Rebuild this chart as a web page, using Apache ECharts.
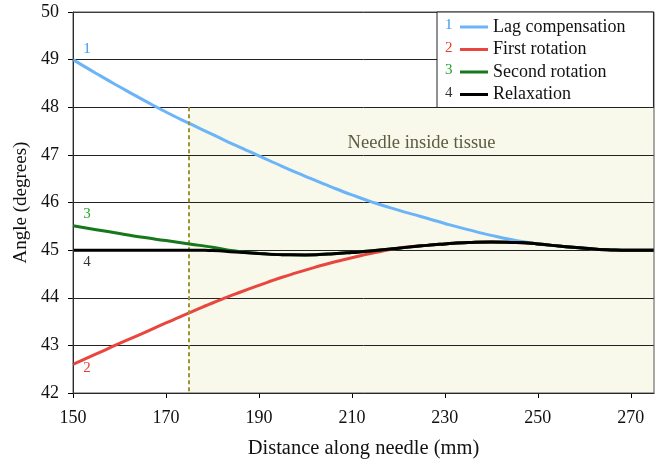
<!DOCTYPE html>
<html>
<head>
<meta charset="utf-8">
<script src="https://cdn.jsdelivr.net/npm/echarts@6/dist/echarts.min.js"></script>
<style>html,body{margin:0;padding:0;background:#fff}#c{width:662px;height:464px}</style>
</head>
<body>
<div id="c"></div>
<script>
var xs = [150,155,160,165,170,175,180,185,190,195,200,205,210,215,220,225,230,235,240,245,250,255,260,265,270,275];
var lagComp = [49.0,48.71,48.43,48.16,47.9,47.66,47.43,47.2,46.98,46.76,46.55,46.35,46.16,45.99,45.84,45.7,45.56,45.43,45.31,45.21,45.13,45.08,45.04,45.01,45.0,45.0];
var firstRot = [42.6,42.82,43.04,43.25,43.47,43.68,43.89,44.08,44.26,44.43,44.58,44.72,44.84,44.95,45.04,45.09,45.13,45.16,45.17,45.16,45.13,45.08,45.04,45.01,45.0,45.0];
var secondRot = [45.51,45.43,45.35,45.27,45.2,45.13,45.06,44.98,44.93,44.905,44.9,44.92,44.95,44.99,45.04,45.09,45.13,45.16,45.17,45.16,45.13,45.08,45.04,45.01,45.0,45.0];
var relax = [45.0,45.0,45.0,45.0,45.0,45.0,44.99,44.96,44.93,44.905,44.9,44.92,44.95,44.99,45.04,45.09,45.13,45.16,45.17,45.16,45.13,45.08,45.04,45.01,45.0,45.0];
var seriesNames = ['Lag compensation','First rotation','Second rotation','Relaxation'];
var seriesNums = ['1','2','3','4'];
var tissueStart = 175;
var tissueTop = 48;
var tissueLabel = 'Needle inside tissue';
var xTitle = 'Distance along needle (mm)';
var yTitle = 'Angle (degrees)';

var F = '"Liberation Serif", "Times New Roman", serif';
var lineColors = ['#6cb4f8','#e8463e','#16781c','#000000'];
var numColors = ['#3a9ae8','#ee3b2c','#22a52a','#333333'];
var numOffsets = [[14,-11],[14,4],[14,-12],[14,12]];
var datas = [lagComp, firstRot, secondRot, relax];

function pairs(arr){ return xs.map(function(x,i){ return [x, arr[i]]; }); }

var series = [{
  name: 'tissue', type: 'line', data: [], z: 0, silent: true,
  markArea: {
    silent: true,
    itemStyle: {color: '#f8f8eb'},
    label: {show: true, position: 'insideTop', distance: 26, formatter: tissueLabel, color: '#5c5c42', fontFamily: F, fontSize: 18.5},
    data: [[{xAxis: tissueStart, yAxis: tissueTop}, {xAxis: 275, yAxis: 42}]]
  }
}];
datas.forEach(function(arr, k){
  var s = {
    name: seriesNames[k], type: 'line', data: pairs(arr),
    smooth: 0.6, showSymbol: false, symbol: 'none',
    lineStyle: {color: lineColors[k], width: 3},
    itemStyle: {color: lineColors[k]},
    z: 3 + k,
    markPoint: {
      symbol: 'circle', symbolSize: 0, silent: true,
      itemStyle: {color: 'rgba(0,0,0,0)'},
      label: {show: true, formatter: seriesNums[k], color: numColors[k], fontFamily: F, fontSize: 15, offset: numOffsets[k], position: 'inside'},
      data: [{coord: [xs[0], arr[0]]}]
    }
  };
  if (k === 0) {
    s.markLine = {
      silent: true, symbol: 'none',
      lineStyle: {color: '#9c9532', width: 2, type: [4,3]},
      label: {show: false},
      data: [[{coord: [tissueStart, tissueTop]}, {coord: [tissueStart, 42]}]]
    };
  }
  series.push(s);
});

var chart = echarts.init(document.getElementById('c'), null, {renderer: 'canvas'});
chart.setOption({
  animation: false,
  backgroundColor: '#ffffff',
  grid: {left: 73, right: 8, top: 12, bottom: 71, show: true, borderColor: '#555', borderWidth: 1, backgroundColor: 'transparent', z: 10},
  xAxis: {
    type: 'value', min: 150, max: 275, interval: 20, z: 2,
    name: xTitle, nameLocation: 'middle', nameGap: 45,
    nameTextStyle: {fontFamily: F, fontSize: 20.5, color: '#111'},
    axisLine: {show: true, onZero: false, lineStyle: {color: '#000', width: 1}},
    axisTick: {show: true, inside: false, length: 5, lineStyle: {color: '#000'}},
    axisLabel: {fontFamily: F, fontSize: 18, color: '#111', margin: 16, showMaxLabel: false},
    splitLine: {show: false}
  },
  yAxis: {
    type: 'value', min: 42, max: 50, interval: 1, z: 2,
    name: yTitle, nameLocation: 'middle', nameGap: 40,
    nameTextStyle: {fontFamily: F, fontSize: 19, color: '#111'},
    axisLine: {show: true, lineStyle: {color: '#000', width: 1}},
    axisTick: {show: true, length: 5, lineStyle: {color: '#000'}},
    axisLabel: {fontFamily: F, fontSize: 18, color: '#111', margin: 14},
    splitLine: {show: true, lineStyle: {color: '#222', width: 1}}
  },
  legend: {
    show: true, orient: 'vertical', left: 437, top: 12,
    data: seriesNames,
    icon: 'rect', itemWidth: 28, itemHeight: 3, itemGap: 4.5, itemTextGap: 6,
    backgroundColor: '#ffffff', borderColor: '#222', borderWidth: 1,
    padding: [6, 28, 4, 23],
    textStyle: {fontFamily: F, fontSize: 18, color: '#111', lineHeight: 18},
    z: 20
  },
  graphic: seriesNums.map(function(n, k){
    return {type: 'text', left: 445, top: 18 + k * 22.5, z: 100,
      style: {text: n, fill: numColors[k], font: '15px "Liberation Serif", serif'}};
  }),
  series: series
});
</script>
</body>
</html>
